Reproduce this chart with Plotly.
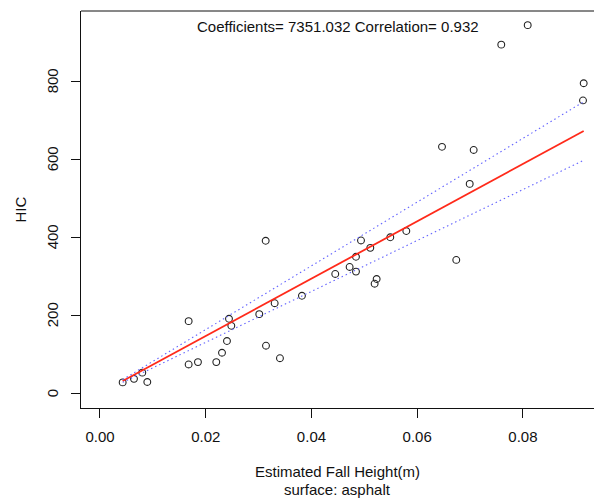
import numpy as np
import plotly.graph_objects as go

# Data
fall_height = [0.00429, 0.00643, 0.0080, 0.00895, 0.01677, 0.01677, 0.01853, 0.0220,
               0.02308, 0.02402, 0.0244, 0.02484, 0.03013, 0.0314, 0.03134, 0.03304,
               0.03404, 0.0382, 0.0445, 0.04722, 0.04842, 0.04842, 0.04937, 0.05113,
               0.05233, 0.05195, 0.05491, 0.05794, 0.06469, 0.06739, 0.06993, 0.07068,
               0.0759, 0.0809, 0.09136, 0.09149]
hic = [28, 37, 53, 29, 185, 74, 80, 80,
       104, 134, 191, 173, 203, 122, 391, 231,
       90, 250, 306, 324, 312, 350, 392, 373,
       293, 281, 400, 416, 632, 342, 537, 624,
       894, 944, 751, 795]

coefficient = 7351.032
correlation = 0.932
slope_ci_half = 820.0   # half-width of the slope confidence band

x_ticks = [0.00, 0.02, 0.04, 0.06, 0.08]
x_tick_labels = ["0.00", "0.02", "0.04", "0.06", "0.08"]
y_ticks = [0, 200, 400, 600, 800]
y_tick_labels = ["0", "200", "400", "600", "800"]

FONT = "Liberation Sans, Arial, Helvetica, sans-serif"
INK = "#111111"

xs = np.sort(np.array(fall_height))
fit = coefficient * xs
upper = (coefficient + slope_ci_half) * xs
lower = (coefficient - slope_ci_half) * xs

fig = go.Figure()
fig.add_trace(go.Scatter(
    x=fall_height, y=hic, mode="markers",
    marker=dict(symbol="circle-open", size=6.8, color="#222222", line=dict(width=1.1, color="#222222")),
    showlegend=False, hoverinfo="x+y"))
fig.add_trace(go.Scatter(x=xs, y=fit, mode="lines",
                         line=dict(color="#ff2a1a", width=1.8), showlegend=False))
for band in (upper, lower):
    fig.add_trace(go.Scatter(x=xs, y=band, mode="lines",
                             line=dict(color="#6464ff", width=1.1, dash="1.5px,3px"),
                             showlegend=False))

annotations = [
    dict(text=f"Coefficients= {coefficient:.3f} Correlation= {correlation:.3f}",
         xref="paper", yref="paper", x=0.5, y=1, xanchor="center", yanchor="middle",
         yshift=-15, showarrow=False, font=dict(size=15, family=FONT, color=INK)),
    dict(text="Estimated Fall Height(m)", xref="paper", yref="paper", x=0.5, y=0,
         xanchor="center", yanchor="middle", yshift=-63, showarrow=False,
         font=dict(size=15, family=FONT, color=INK)),
    dict(text="surface: asphalt", xref="paper", yref="paper", x=0.5, y=0,
         xanchor="center", yanchor="middle", yshift=-81, showarrow=False,
         font=dict(size=15, family=FONT, color=INK)),
    dict(text="HIC", xref="paper", yref="paper", x=0, y=0.5, textangle=-90,
         xanchor="center", yanchor="middle", xshift=-61, showarrow=False,
         font=dict(size=15, family=FONT, color=INK)),
]
for v, lab in zip(y_ticks, y_tick_labels):
    annotations.append(dict(text=lab, xref="paper", yref="y", x=0, y=v, textangle=-90,
                            xanchor="center", yanchor="middle", xshift=-29,
                            showarrow=False, font=dict(size=15, family=FONT, color=INK)))

fig.update_layout(
    width=594, height=498,
    margin=dict(l=81, r=0, t=11, b=90, autoexpand=False),
    paper_bgcolor="white", plot_bgcolor="white",
    font=dict(family=FONT, size=15, color=INK),
    xaxis=dict(range=[-0.00359, 0.09344], showgrid=False, zeroline=False,
               showline=True, linecolor=INK, linewidth=1,
               ticks="outside", ticklen=9, tickwidth=1, tickcolor=INK,
               tickvals=x_ticks, ticktext=x_tick_labels, ticklabelstandoff=6,
               tickfont=dict(size=15, family=FONT, color=INK)),
    yaxis=dict(range=[-37.7, 980.3], showgrid=False, zeroline=False,
               showline=True, linecolor=INK, linewidth=1,
               ticks="outside", ticklen=9, tickwidth=1, tickcolor=INK,
               tickvals=y_ticks, showticklabels=False),
    shapes=[dict(type="line", xref="paper", yref="paper", x0=0, x1=1, y0=1, y1=1,
                 line=dict(color=INK, width=1))],
    annotations=annotations,
)

fig.write_html("out.html", config={"displayModeBar": False},
               post_script="document.body.style.margin='0';document.body.style.overflow='hidden';")
